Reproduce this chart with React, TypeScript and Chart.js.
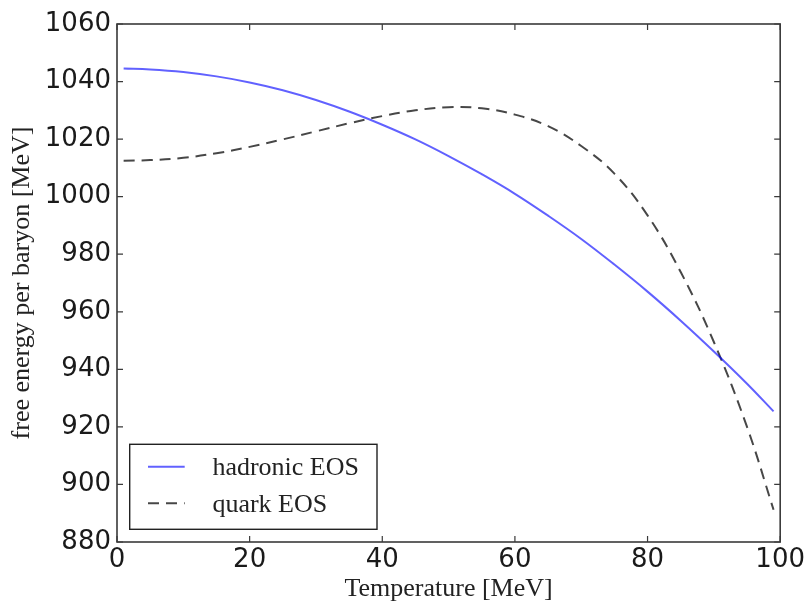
import React, { useEffect, useRef } from "react";
import { Chart, registerables } from "chart.js";

Chart.register(...registerables);

// Temperature [MeV]
const temperature = [1, 5, 10, 15, 20, 25, 30, 35, 40, 45, 50, 55, 60, 65, 70, 75, 80, 85, 90, 95, 99];
// free energy per baryon [MeV]
const hadronicEOS = [1044.5, 1044.2, 1043.3, 1041.8, 1039.7, 1037.0, 1033.6, 1029.6, 1025.0, 1019.9, 1014.1, 1007.8, 1001.0, 993.4, 985.3, 976.4, 967.0, 956.9, 946.2, 935.0, 925.4];
const quarkEOS = [1012.5, 1012.7, 1013.5, 1015.1, 1017.3, 1019.9, 1022.7, 1025.5, 1028.0, 1030.0, 1031.1, 1030.7, 1028.5, 1024.5, 1017.6, 1008.0, 993.5, 973.8, 949.5, 920.0, 891.2];

const seriesLabels = ["hadronic EOS", "quark EOS"];
const xTickValues = [0, 20, 40, 60, 80, 100];
const yTickValues = [880, 900, 920, 940, 960, 980, 1000, 1020, 1040, 1060];
const xTitle = "Temperature [MeV]";
const yTitle = "free energy per baryon [MeV]";

const SERIF = "'Liberation Serif', 'Times New Roman', serif";
const SANS = "'DejaVu Sans', sans-serif";

const framePlugin = {
  id: "mplFrame",
  afterDraw(chart: any) {
    const { ctx, chartArea: a, scales } = chart;
    ctx.save();
    const frameColor = "#3a3a3a";
    ctx.strokeStyle = frameColor;
    ctx.lineWidth = 1.6;
    ctx.strokeRect(a.left, a.top, a.right - a.left, a.bottom - a.top);
    const L = 6;
    ctx.lineWidth = 1.2;
    ctx.beginPath();
    scales.x.ticks.forEach((t: any) => {
      const px = scales.x.getPixelForValue(t.value);
      ctx.moveTo(px, a.bottom);
      ctx.lineTo(px, a.bottom - L);
      ctx.moveTo(px, a.top);
      ctx.lineTo(px, a.top + L);
    });
    scales.y.ticks.forEach((t: any) => {
      const py = scales.y.getPixelForValue(t.value);
      ctx.moveTo(a.left, py);
      ctx.lineTo(a.left + L, py);
      ctx.moveTo(a.right, py);
      ctx.lineTo(a.right - L, py);
    });
    ctx.stroke();

    // legend box (lower left, inside axes)
    const bx = a.left + 12.7;
    const bw = 247.3;
    const bh = 85;
    const by = a.bottom - 12.7 - bh;
    ctx.fillStyle = "#ffffff";
    ctx.fillRect(bx, by, bw, bh);
    ctx.strokeStyle = "#222";
    ctx.lineWidth = 1.4;
    ctx.strokeRect(bx, by, bw, bh);
    const rows = [by + 22.4, by + 59];
    chart.data.datasets.forEach((ds: any, i: number) => {
      const y = rows[i];
      ctx.save();
      ctx.strokeStyle = ds.borderColor;
      ctx.lineWidth = ds.borderWidth;
      ctx.setLineDash(ds.borderDash || []);
      ctx.beginPath();
      ctx.moveTo(bx + 18.3, y);
      ctx.lineTo(bx + 55, y);
      ctx.stroke();
      ctx.restore();
      ctx.fillStyle = "#222";
      ctx.font = `26px ${SERIF}`;
      ctx.textAlign = "left";
      ctx.textBaseline = "alphabetic";
      ctx.fillText(ds.label, bx + 82.7, y + 8.3);
    });
    ctx.restore();
  },
};

export default function App() {
  const ref = useRef<HTMLCanvasElement | null>(null);
  useEffect(() => {
    document.body.style.margin = "0";
    const canvas = ref.current;
    if (!canvas) return;
    const chart = new Chart(canvas, {
      type: "line",
      data: {
        datasets: [
          {
            label: seriesLabels[0],
            data: temperature.map((t, i) => ({ x: t, y: hadronicEOS[i] })),
            borderColor: "rgba(0,0,255,0.62)",
            borderWidth: 2,
            pointRadius: 0,
            fill: false,
            tension: 0.4,
          },
          {
            label: seriesLabels[1],
            data: temperature.map((t, i) => ({ x: t, y: quarkEOS[i] })),
            borderColor: "rgba(0,0,0,0.72)",
            borderWidth: 2,
            borderDash: [11, 7],
            pointRadius: 0,
            fill: false,
            tension: 0.4,
          },
        ],
      },
      options: {
        animation: false,
        responsive: false,
        maintainAspectRatio: false,
        layout: { padding: { top: 24, right: 24, left: 0, bottom: 0 } },
        plugins: {
          legend: { display: false },
          tooltip: { enabled: false },
        },
        scales: {
          x: {
            type: "linear",
            min: 0,
            max: 100,
            afterBuildTicks: (s: any) => {
              s.ticks = xTickValues.map((v) => ({ value: v }));
            },
            afterFit: (s: any) => {
              s.height = 63;
            },
            grid: { display: false, drawTicks: false },
            border: { display: false },
            ticks: {
              padding: 3,
              color: "#1a1a1a",
              font: { family: SANS, size: 26 },
              maxRotation: 0,
              autoSkip: false,
              callback: (v: any) => String(v),
            },
            title: {
              display: true,
              text: xTitle,
              color: "#222",
              font: { family: SERIF, size: 26 },
              padding: { top: 0, bottom: 0 },
            },
          },
          y: {
            type: "linear",
            min: 880,
            max: 1060,
            afterBuildTicks: (s: any) => {
              s.ticks = yTickValues.map((v) => ({ value: v }));
            },
            afterFit: (s: any) => {
              s.width = 117;
            },
            grid: { display: false, drawTicks: false },
            border: { display: false },
            ticks: {
              padding: 6,
              color: "#1a1a1a",
              font: { family: SANS, size: 26 },
              autoSkip: false,
              callback: (v: any) => String(v),
            },
            title: {
              display: true,
              text: yTitle,
              color: "#222",
              font: { family: SERIF, size: 26 },
              padding: { top: 7, bottom: 0 },
            },
          },
        },
      },
      plugins: [framePlugin],
    } as any);
    return () => chart.destroy();
  }, []);
  return (
    <canvas
      ref={ref}
      width={808}
      height={605}
      style={{ display: "block", width: "808px", height: "605px" }}
    />
  );
}
